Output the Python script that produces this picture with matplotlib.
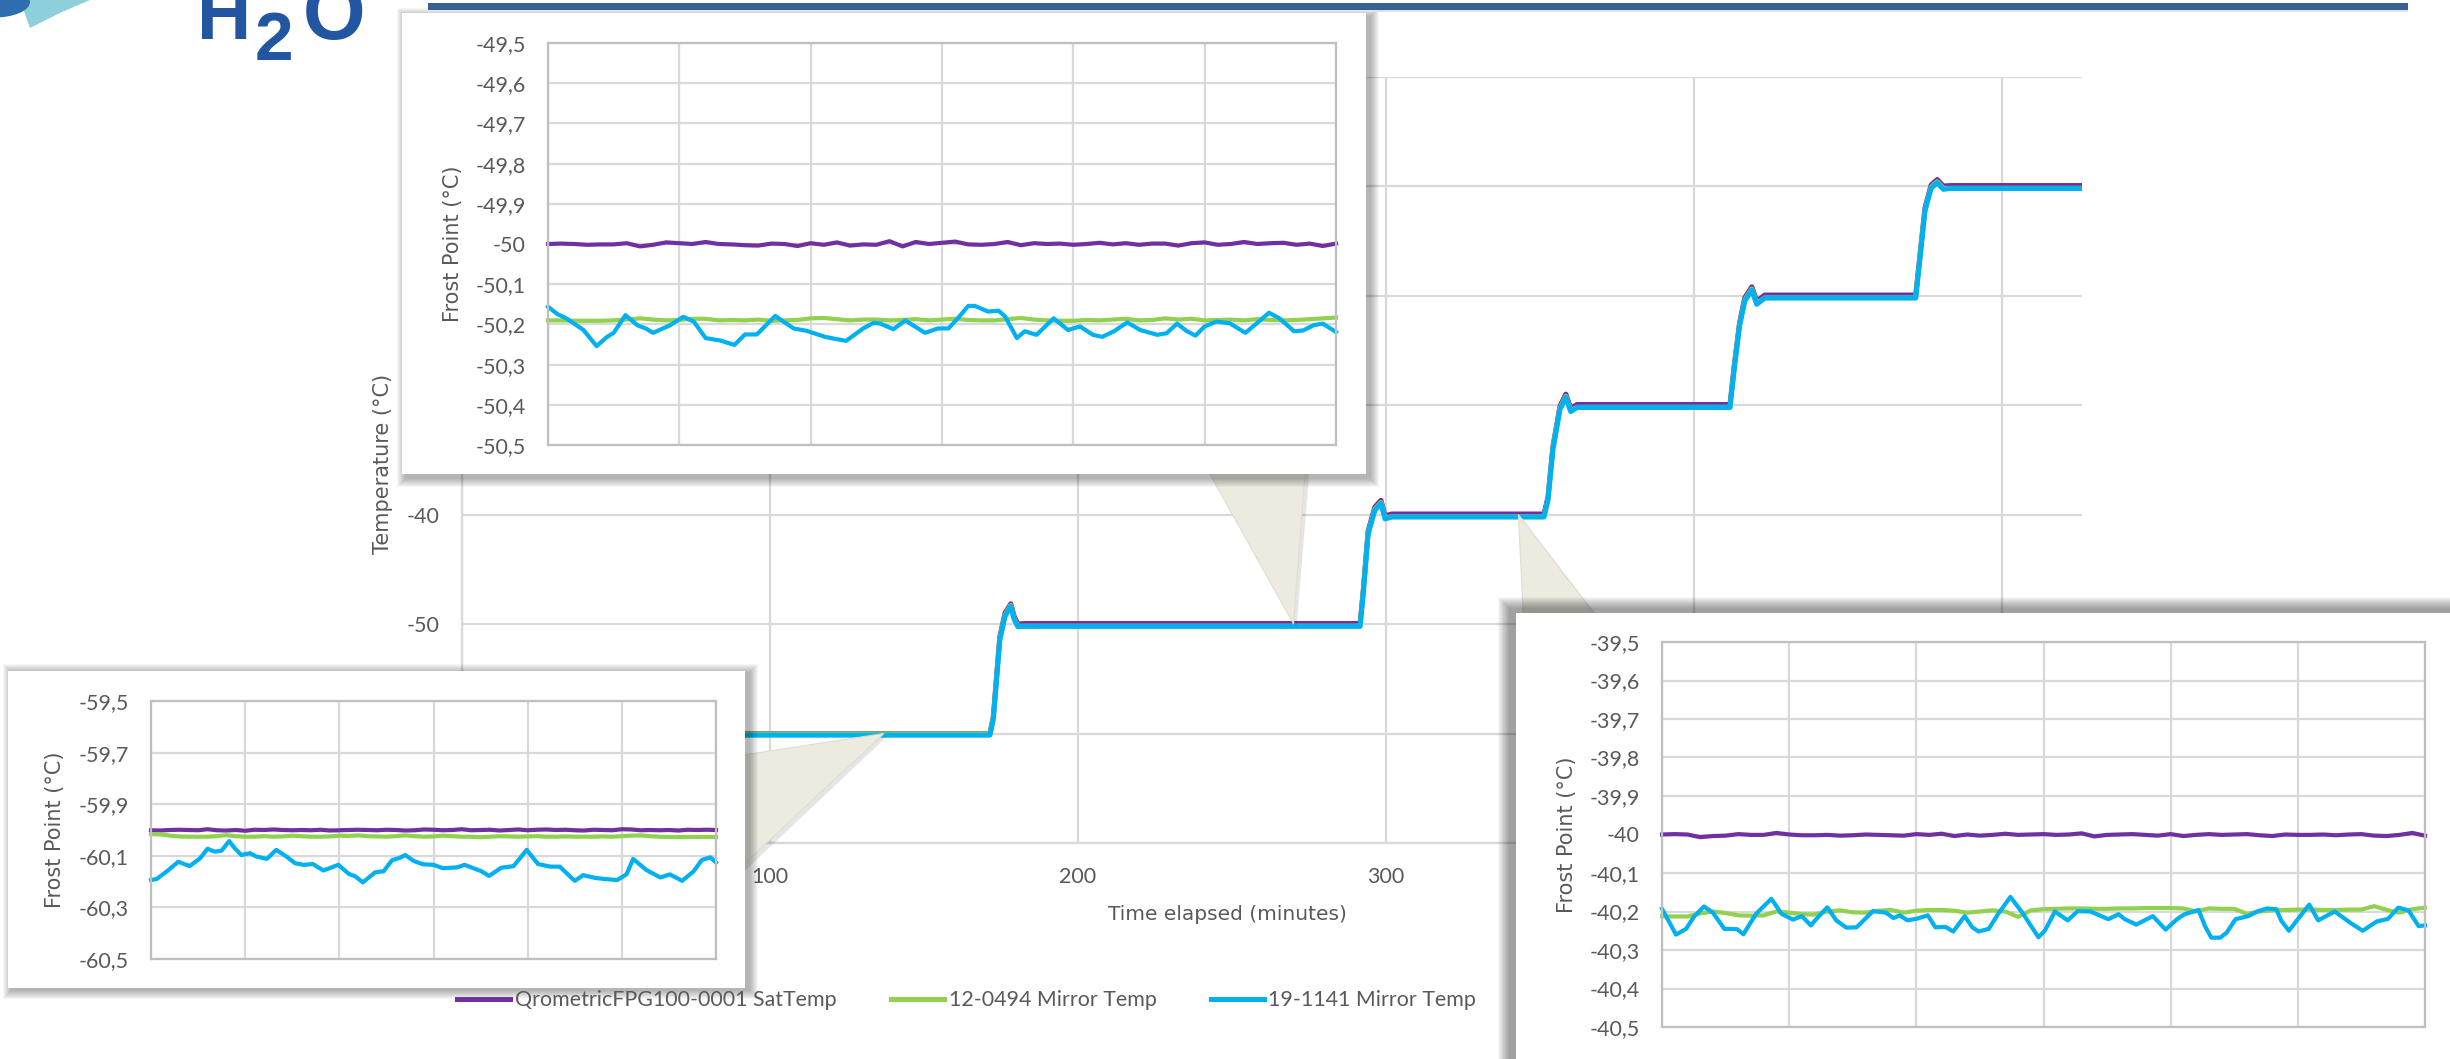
import numpy as np
import matplotlib
matplotlib.use("Agg")
import matplotlib.pyplot as plt
from matplotlib.patches import Rectangle, Polygon, Circle
from matplotlib.font_manager import FontProperties

# ---------------- data ----------------
series_names = ["QrometricFPG100-0001 SatTemp", "12-0494 Mirror Temp", "19-1141 Mirror Temp"]
series_colors = ["#7030A0", "#92D050", "#00B0F0"]

main_xticks = [0, 100, 200, 300, 400, 500]
main_yticks = [-70, -60, -50, -40, -30, -20, -10, 0]

main_t = [0, 171.4, 172.5, 173.5, 174.6, 176.3, 178.2, 179.3, 180.5, 183,
          291.6, 292.6, 294.2, 296.4, 298.4, 299.7, 302,
          351.3, 352.6, 354.2, 356.5, 358.4, 360.0, 362,
          411.7, 413.2, 414.8, 416.5, 418.8, 420.4, 423,
          472, 473.5, 475, 477, 479, 481, 483, 527]
main_purple = [-60.0, -60.0, -58.5, -55.0, -51.2, -49.0, -48.15, -49.3, -50.0, -49.95,
               -49.95, -47.0, -41.5, -39.3, -38.7, -40.1, -39.95,
               -39.95, -38.4, -33.8, -30.1, -29.0, -30.3, -29.95,
               -29.95, -26.1, -22.5, -20.2, -19.2, -20.5, -19.95,
               -19.95, -16.0, -12.0, -9.9, -9.4, -10.0, -9.95, -9.95]
main_green = [-60.03, -60.03, -58.6, -55.2, -51.4, -49.2, -48.3, -49.5, -50.2, -50.19,
              -50.19, -47.2, -41.7, -39.5, -38.9, -40.3, -40.2,
              -40.2, -38.6, -34.0, -30.3, -29.2, -30.5, -30.2,
              -30.2, -26.3, -22.7, -20.4, -19.4, -20.7, -20.2,
              -20.2, -16.2, -12.2, -10.1, -9.6, -10.2, -10.2, -10.2]
main_blue = [-60.15, -60.15, -58.7, -55.3, -51.5, -49.3, -48.4, -49.6, -50.25, -50.21,
             -50.21, -47.3, -41.8, -39.6, -39.0, -40.4, -40.22,
             -40.22, -38.7, -34.1, -30.4, -29.3, -30.6, -30.22,
             -30.22, -26.4, -22.8, -20.5, -19.5, -20.8, -20.22,
             -20.22, -16.3, -12.3, -10.2, -9.7, -10.3, -10.22, -10.22]

# --- inset at -50 (top left) ---
tl_yticks = [-50.5, -50.4, -50.3, -50.2, -50.1, -50.0, -49.9, -49.8, -49.7, -49.6, -49.5]
tl_purple = [-50.000, -49.999, -50.000, -50.002, -50.001, -50.001, -49.998, -50.006, -50.002, -49.996,
             -49.998, -50.000, -49.995, -50.000, -50.001, -50.003, -50.004, -49.999, -50.000, -50.005,
             -49.998, -50.002, -49.996, -50.004, -50.001, -50.002, -49.993, -50.006, -49.995, -50.000,
             -49.997, -49.994, -50.001, -50.002, -50.000, -49.995, -50.003, -49.998, -50.000, -49.999,
             -50.002, -50.000, -49.997, -50.001, -49.998, -50.002, -49.999, -49.999, -50.004, -49.998,
             -49.996, -50.002, -50.000, -49.995, -50.000, -49.998, -49.997, -50.002, -49.999, -50.005, -49.999]
tl_green = [-50.190, -50.190, -50.191, -50.191, -50.191, -50.190, -50.188, -50.185, -50.188, -50.190,
            -50.189, -50.186, -50.186, -50.190, -50.189, -50.190, -50.188, -50.191, -50.190, -50.189,
            -50.185, -50.184, -50.187, -50.190, -50.188, -50.188, -50.190, -50.189, -50.187, -50.190,
            -50.188, -50.186, -50.189, -50.190, -50.190, -50.187, -50.184, -50.188, -50.190, -50.191,
            -50.191, -50.189, -50.190, -50.188, -50.186, -50.190, -50.189, -50.185, -50.188, -50.186,
            -50.190, -50.189, -50.188, -50.190, -50.187, -50.189, -50.190, -50.189, -50.187, -50.185, -50.183]
tl_blue_x = [0.0, 0.7, 1.4, 2.7, 3.7, 4.5, 5.0, 5.9, 6.8, 7.5, 8.0, 9.3, 10.3, 11.1, 12.0, 13.1, 14.2,
             15.0, 15.9, 17.3, 18.7, 19.7, 21.1, 21.7, 22.7, 24.0, 24.8, 25.3, 26.3, 27.2, 28.7, 29.7,
             30.5, 31.2, 32.0, 32.5, 33.5, 34.3, 34.8, 35.7, 36.3, 37.2, 38.5, 39.6, 40.5, 41.5, 42.2,
             43.1, 44.1, 45.1, 46.4, 47.1, 47.9, 48.6, 49.3, 50.0, 50.9, 51.9, 53.1, 53.8, 54.9, 55.7,
             56.8, 57.5, 58.3, 59.0, 60.0]
tl_blue = [-50.156, -50.174, -50.185, -50.214, -50.254, -50.231, -50.221, -50.177, -50.202, -50.211,
           -50.221, -50.202, -50.181, -50.193, -50.234, -50.240, -50.251, -50.225, -50.225, -50.179,
           -50.210, -50.216, -50.231, -50.235, -50.241, -50.210, -50.196, -50.198, -50.212, -50.190,
           -50.221, -50.210, -50.210, -50.185, -50.154, -50.154, -50.168, -50.166, -50.180, -50.234,
           -50.217, -50.226, -50.185, -50.214, -50.205, -50.226, -50.231, -50.217, -50.195, -50.214,
           -50.226, -50.222, -50.198, -50.216, -50.228, -50.205, -50.193, -50.197, -50.221, -50.202,
           -50.171, -50.185, -50.217, -50.215, -50.202, -50.198, -50.219]

# --- inset at -60 (bottom left) ---
bl_yticks = [-60.5, -60.3, -60.1, -59.9, -59.7, -59.5]
bl_purple = [-60.001, -60.002, -60.000, -59.999, -60.000, -60.001, -59.997, -60.001, -60.002, -60.000,
             -60.003, -59.999, -60.000, -59.998, -60.000, -60.001, -60.000, -60.001, -59.999, -60.002,
             -60.001, -60.000, -59.999, -60.000, -60.001, -59.999, -60.000, -60.002, -60.001, -59.998,
             -59.999, -60.001, -60.000, -59.997, -60.001, -60.000, -59.999, -60.002, -60.000, -59.998,
             -60.001, -59.999, -59.998, -60.000, -59.999, -60.001, -60.002, -59.999, -60.000, -60.001,
             -59.997, -59.998, -60.001, -60.000, -60.001, -60.000, -60.002, -59.999, -60.000, -59.999, -60.000]
bl_green = [-60.016, -60.017, -60.022, -60.025, -60.026, -60.026, -60.026, -60.024, -60.020, -60.024,
            -60.026, -60.026, -60.024, -60.026, -60.025, -60.022, -60.024, -60.026, -60.026, -60.025,
            -60.022, -60.023, -60.021, -60.024, -60.025, -60.026, -60.024, -60.021, -60.024, -60.026,
            -60.025, -60.022, -60.024, -60.026, -60.026, -60.028, -60.026, -60.024, -60.025, -60.026,
            -60.025, -60.024, -60.026, -60.026, -60.025, -60.026, -60.026, -60.026, -60.025, -60.026,
            -60.024, -60.022, -60.021, -60.024, -60.026, -60.027, -60.027, -60.027, -60.027, -60.027, -60.027]
bl_blue_x = [0.0, 0.6, 1.7, 2.9, 4.1, 5.2, 6.0, 6.8, 7.5, 8.3, 8.9, 9.6, 10.5, 11.2, 12.3, 13.3, 14.4,
             15.3, 16.2, 17.2, 18.3, 19.9, 21.0, 21.7, 22.5, 23.8, 24.7, 25.6, 26.4, 27.0, 27.9, 28.9,
             30.0, 31.0, 32.5, 33.3, 35.1, 35.9, 37.2, 38.5, 39.9, 41.1, 42.4, 43.4, 45.0, 45.9, 47.2,
             48.2, 49.5, 50.5, 51.2, 52.6, 54.1, 55.1, 56.4, 57.6, 58.5, 59.4, 60.0]
bl_blue = [-60.194, -60.190, -60.160, -60.123, -60.140, -60.110, -60.073, -60.084, -60.080, -60.043,
           -60.071, -60.097, -60.090, -60.103, -60.112, -60.077, -60.103, -60.129, -60.135, -60.132,
           -60.157, -60.135, -60.170, -60.180, -60.203, -60.164, -60.160, -60.117, -60.108, -60.097,
           -60.120, -60.133, -60.135, -60.148, -60.145, -60.135, -60.160, -60.178, -60.146, -60.140,
           -60.077, -60.132, -60.142, -60.142, -60.197, -60.175, -60.186, -60.190, -60.194, -60.172,
           -60.112, -60.155, -60.184, -60.172, -60.197, -60.161, -60.116, -60.106, -60.126]

# --- inset at -40 (bottom right) ---
br_yticks = [-40.5, -40.4, -40.3, -40.2, -40.1, -40.0, -39.9, -39.8, -39.7, -39.6, -39.5]
br_purple = [-40.000, -39.999, -40.000, -40.007, -40.004, -40.003, -39.999, -40.001, -40.001, -39.996,
             -40.000, -40.002, -40.002, -40.001, -40.003, -40.002, -40.000, -40.001, -40.002, -40.003,
             -39.999, -40.001, -39.998, -40.004, -40.000, -40.003, -40.001, -39.998, -40.001, -40.000,
             -39.999, -40.001, -40.000, -39.997, -40.005, -40.001, -40.000, -39.999, -40.001, -40.003,
             -39.999, -40.004, -40.001, -39.999, -40.001, -40.000, -39.999, -40.002, -40.004, -40.000,
             -40.001, -40.001, -40.000, -40.002, -40.000, -39.999, -40.003, -40.004, -40.001, -39.996, -40.003]
br_green = [-40.212, -40.213, -40.213, -40.205, -40.200, -40.204, -40.210, -40.211, -40.210, -40.200,
            -40.203, -40.207, -40.208, -40.200, -40.197, -40.202, -40.203, -40.198, -40.196, -40.203,
            -40.198, -40.196, -40.196, -40.198, -40.203, -40.200, -40.197, -40.200, -40.214, -40.197,
            -40.194, -40.193, -40.192, -40.192, -40.193, -40.193, -40.192, -40.192, -40.191, -40.191,
            -40.191, -40.192, -40.200, -40.192, -40.193, -40.193, -40.206, -40.200, -40.197, -40.196,
            -40.195, -40.195, -40.196, -40.196, -40.195, -40.195, -40.186, -40.196, -40.203, -40.194, -40.190]
br_blue_x = [0.0, 0.5, 1.1, 1.9, 2.5, 3.3, 4.0, 4.9, 5.9, 6.4, 7.4, 8.6, 9.4, 10.3, 11.0, 11.7, 12.4,
             13.0, 13.7, 14.5, 15.3, 16.6, 17.6, 18.2, 18.7, 19.3, 20.0, 20.9, 21.5, 22.3, 22.9, 23.8,
             24.4, 24.9, 25.7, 26.4, 27.4, 28.4, 29.6, 30.1, 30.9, 31.9, 32.7, 33.7, 35.1, 35.9, 36.4,
             37.3, 38.6, 39.6, 40.5, 41.1, 42.2, 42.7, 43.2, 43.9, 44.4, 45.1, 46.1, 46.8, 47.6, 48.3,
             48.7, 49.3, 50.0, 50.9, 51.6, 52.9, 54.2, 55.1, 56.2, 57.1, 57.9, 58.7, 59.5, 60.0]
br_blue = [-40.193, -40.223, -40.260, -40.245, -40.214, -40.187, -40.203, -40.245, -40.246, -40.259,
           -40.206, -40.167, -40.206, -40.221, -40.212, -40.236, -40.210, -40.189, -40.223, -40.242,
           -40.241, -40.199, -40.203, -40.217, -40.210, -40.223, -40.219, -40.210, -40.241, -40.240,
           -40.252, -40.212, -40.241, -40.252, -40.245, -40.208, -40.162, -40.206, -40.267, -40.250,
           -40.200, -40.223, -40.199, -40.200, -40.220, -40.207, -40.220, -40.234, -40.212, -40.247,
           -40.220, -40.207, -40.196, -40.238, -40.268, -40.268, -40.255, -40.220, -40.212, -40.200,
           -40.192, -40.194, -40.224, -40.250, -40.220, -40.182, -40.223, -40.200, -40.231, -40.250,
           -40.226, -40.219, -40.190, -40.197, -40.238, -40.236]

callout_tl_point = (270, -50.0)
callout_bl_point = (137, -60.0)
callout_br_point = (343, -40.0)

# ---------------- styling ----------------
W, H = 2450, 1059
TXT = "#595959"
GRID = "#D9D9D9"
TICKFONT = ["Lato", "DejaVu Sans"]
TITLEFONT = ["DejaVu Sans"]

fig = plt.figure(figsize=(W / 100, H / 100), dpi=100)
fig.patch.set_facecolor("white")
renderer = fig.canvas.get_renderer()


def fr(x0, y0, x1, y1):
    return [x0 / W, 1 - y1 / H, (x1 - x0) / W, (y1 - y0) / H]


def fxy(x, y):
    return (x / W, 1 - y / H)


def fmt(v):
    return ("%g" % round(v, 1)).replace(".", ",")


def fit_size(text, family, target_px, base=14.0):
    t = fig.text(0, 0, text, fontsize=base, family=family)
    w = t.get_window_extent(renderer=renderer).width
    t.remove()
    return base * target_px / w


# ---- main chart ----
ax = fig.add_axes(fr(462, 76.6, 2082, 843))
ax.set_zorder(0)
ax.set_xlim(0, 526)
ax.set_ylim(-70, 0)
ax.set_xticks(main_xticks)
ax.set_yticks(main_yticks)
ax.set_xticklabels([fmt(v) for v in main_xticks], family=TICKFONT)
ax.set_yticklabels([fmt(v) for v in main_yticks], family=TICKFONT)
ax.grid(True, color=GRID, lw=1.6)
ax.set_axisbelow(True)
for s in ["top", "right"]:
    ax.spines[s].set_visible(False)
for s in ["left", "bottom"]:
    ax.spines[s].set_color(GRID)
    ax.spines[s].set_linewidth(1.6)
ax.tick_params(axis="both", length=0, labelsize=15.5, colors=TXT)
ax.tick_params(axis="y", pad=16)
ax.tick_params(axis="x", pad=17)
handles = []
for vals, c, name in zip([main_purple, main_green, main_blue], series_colors, series_names):
    ln, = ax.plot(main_t, vals, color=c, lw=3.6, solid_joinstyle="round", label=name)
    handles.append(ln)

fig.text(383 / W, 1 - 464 / H, "Temperature (°C)", rotation=90, ha="center", va="center",
         fontsize=15, color=TXT, family=TITLEFONT, zorder=4)
fig.text(1227 / W, 1 - 914 / H, "Time elapsed (minutes)", ha="center", va="center",
         fontsize=14.5, color=TXT, family=TITLEFONT, zorder=4)

leg_size = fit_size(series_names[0], TICKFONT, 322)
leg_px = leg_size * 100 / 72
leg = fig.legend(handles=handles, loc="center left", bbox_to_anchor=fxy(457, 1000), ncol=3,
                 frameon=False, prop={"family": TICKFONT, "size": leg_size},
                 handlelength=53 / leg_px, handletextpad=5 / leg_px, columnspacing=54 / leg_px,
                 borderpad=0, borderaxespad=0, labelcolor=TXT)
for l in leg.get_lines():
    l.set_linewidth(3.6)
leg.set_zorder(5)


# ---- callouts ----
def to_px(axis, pt):
    d = axis.transData.transform(pt)
    return (d[0], H - d[1])


def callout(base1, base2, tip):
    sh = Polygon([fxy(base1[0] + 4, base1[1] + 4), fxy(tip[0] + 3, tip[1] + 3), fxy(base2[0] + 4, base2[1] + 4)],
                 closed=True, transform=fig.transFigure, facecolor="#000000", alpha=0.10,
                 edgecolor="none", zorder=1)
    fig.patches.append(sh)
    p = Polygon([fxy(*base1), fxy(*tip), fxy(*base2)], closed=True, transform=fig.transFigure,
                facecolor="#EDEBE0", edgecolor="#E0DED2", lw=0.8, zorder=1.1)
    fig.patches.append(p)


callout((1202, 460), (1306, 460), to_px(ax, callout_tl_point))
callout((730, 757), (730, 877), to_px(ax, callout_bl_point))
callout((1524, 630), (1607, 630), to_px(ax, callout_br_point))


# ---- inset boxes ----
def box(x0, y0, x1, y1, dx, dy, blur):
    for i in range(blur, 0, -1):
        r = Rectangle(fxy(x0 + dx - i, y1 + dy + i), (x1 - x0 + 2 * i) / W, (y1 - y0 + 2 * i) / H,
                      transform=fig.transFigure, facecolor="#000000", alpha=0.035,
                      edgecolor="none", zorder=2)
        fig.patches.append(r)
    r = Rectangle(fxy(x0, y1), (x1 - x0) / W, (y1 - y0) / H, transform=fig.transFigure,
                  facecolor="white", edgecolor="none", zorder=2.1)
    fig.patches.append(r)


box(402, 13, 1366, 474, 4, 4, 9)
box(8, 671, 745, 988, 4, 2, 9)
box(1516, 613, 2470, 1080, -6, -4, 12)


def inset(rect, yticks, purple, green, bx, blue, ylab_x):
    a = fig.add_axes(fr(*rect))
    a.set_zorder(3)
    a.set_xlim(0, 60)
    a.set_ylim(min(yticks), max(yticks))
    a.set_xticks([0, 10, 20, 30, 40, 50, 60])
    a.set_xticklabels([])
    a.set_yticks(yticks)
    a.set_yticklabels([fmt(v) for v in yticks], family=TICKFONT)
    a.grid(True, color=GRID, lw=1.6)
    a.set_axisbelow(True)
    for s in a.spines.values():
        s.set_color("#BFBFBF")
        s.set_linewidth(1.6)
    a.tick_params(axis="both", length=0, labelsize=15.5, colors=TXT)
    a.tick_params(axis="y", pad=16)
    a.plot(np.linspace(0, 60, len(purple)), purple, color=series_colors[0], lw=3.0,
           solid_joinstyle="round", clip_on=False)
    a.plot(np.linspace(0, 60, len(green)), green, color=series_colors[1], lw=3.0,
           solid_joinstyle="round", clip_on=False)
    a.plot(bx, blue, color=series_colors[2], lw=3.0, solid_joinstyle="round", clip_on=False)
    cy = (rect[1] + rect[3]) / 2
    fig.text(ylab_x / W, 1 - cy / H, "Frost Point (°C)", rotation=90, ha="center", va="center",
             fontsize=15, color=TXT, family=TITLEFONT, zorder=4)
    return a


inset((548, 43, 1336, 445), tl_yticks, tl_purple, tl_green, tl_blue_x, tl_blue, 453)
inset((151, 701, 716, 959), bl_yticks, bl_purple, bl_green, bl_blue_x, bl_blue, 55)
inset((1662, 642, 2425, 1027), br_yticks, br_purple, br_green, br_blue_x, br_blue, 1567)

# ---- header decoration ----
fig.patches.append(Rectangle(fxy(428, 10), (2408 - 428) / W, 7 / H, transform=fig.transFigure,
                             facecolor="#386193", edgecolor="none", zorder=6))
fig.patches.append(Rectangle(fxy(428, 12), (2408 - 428) / W, 2 / H, transform=fig.transFigure,
                             facecolor="#DCE3EC", edgecolor="none", zorder=6))
logo_blue = "#2356A0"
fig.patches.append(Circle(fxy(-6, 2), 36 / W, transform=fig.transFigure, facecolor="#2F6EAE",
                          edgecolor="none", zorder=6))
fig.patches.append(Polygon([fxy(20, 0), fxy(90, 0), fxy(62, 12), fxy(30, 28)], closed=True,
                           transform=fig.transFigure, facecolor="#8ECFDC", edgecolor="none", zorder=5.9))
fig.patches.append(Circle(fxy(112, -32), 38 / W, transform=fig.transFigure, facecolor="#2F6EAE",
                          edgecolor="none", zorder=6))
fig.text(197 / W, 1 - 39 / H, "H", fontsize=54, fontweight="bold", color=logo_blue,
         family=["Liberation Sans", "DejaVu Sans"], va="baseline", ha="left", zorder=7)
fig.text(255 / W, 1 - 60 / H, "2", fontsize=50, fontweight="bold", color=logo_blue,
         family=["Liberation Sans", "DejaVu Sans"], va="baseline", ha="left", zorder=7)
fig.text(303 / W, 1 - 39 / H, "O", fontsize=58, fontweight="bold", color=logo_blue,
         family=["Liberation Sans", "DejaVu Sans"], va="baseline", ha="left", zorder=7)

fig.savefig("out.png", dpi=100)
